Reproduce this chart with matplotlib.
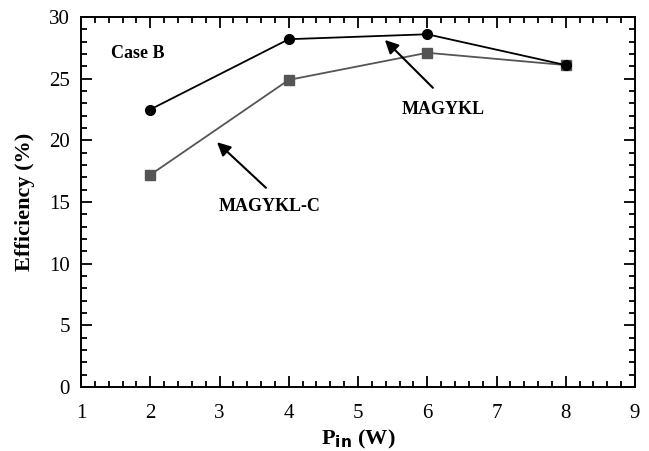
import matplotlib
matplotlib.use("Agg")
import matplotlib.pyplot as plt
from matplotlib.ticker import MultipleLocator

# donnees
p_in = [2, 4, 6, 8]
eff_magykl = [22.5, 28.2, 28.6, 26.1]
eff_magykl_c = [17.2, 24.9, 27.1, 26.1]

plt.rcParams['font.family'] = ['Liberation Serif', 'DejaVu Serif']

fig = plt.figure(figsize=(6.49, 4.51), dpi=100)
ax = fig.add_axes([81/649, 1-387/451, (635-81)/649, (387-17)/451])

ax.plot(p_in, eff_magykl, color='black', lw=1.3, marker='o', ms=7, zorder=3)
ax.plot(p_in, eff_magykl_c, color='#555555', lw=1.3, marker='s', ms=7, zorder=2)

ax.set_xlim(1, 9)
ax.set_ylim(0, 30)
ax.xaxis.set_major_locator(MultipleLocator(1))
ax.xaxis.set_minor_locator(MultipleLocator(0.2))
ax.yaxis.set_major_locator(MultipleLocator(5))
ax.yaxis.set_minor_locator(MultipleLocator(1))
ax.tick_params(which='both', direction='in', top=True, right=True, width=1.3)
ax.tick_params(which='major', length=8, labelsize=15)
ax.tick_params(axis='x', which='major', pad=12)
ax.tick_params(axis='y', which='major', pad=8)
ax.tick_params(which='minor', length=4)
for s in ax.spines.values():
    s.set_linewidth(1.4)

ax.set_xlabel(r'P$_{\mathbf{in}}$ (W)', fontsize=16, fontweight='bold', labelpad=4)
ax.set_ylabel('Efficiency (%)', fontsize=16, fontweight='bold', labelpad=10)

ax.text(1.82, 27.0, 'Case B', fontsize=13, fontweight='bold', ha='center', va='center')

ax.annotate('', xy=(5.36, 28.3), xytext=(6.11, 24.1),
            arrowprops=dict(arrowstyle='-|>', color='black', lw=1.5, mutation_scale=20))
ax.text(6.23, 22.5, 'MAGYKL', fontsize=13, fontweight='bold', ha='center', va='center')

ax.annotate('', xy=(2.935, 20.0), xytext=(3.70, 16.0),
            arrowprops=dict(arrowstyle='-|>', color='black', lw=1.5, mutation_scale=20))
ax.text(3.73, 14.6, 'MAGYKL-C', fontsize=13, fontweight='bold', ha='center', va='center')

fig.savefig('out.png', dpi=100)
